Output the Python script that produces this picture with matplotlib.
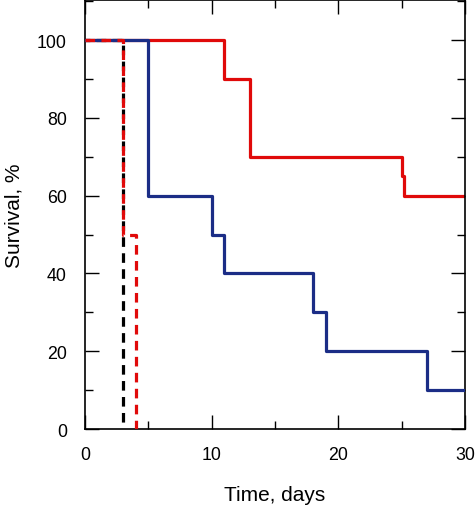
import matplotlib
matplotlib.use("Agg")
import matplotlib.pyplot as plt
from matplotlib.ticker import MultipleLocator

plt.rcParams['font.family'] = ['Liberation Sans', 'DejaVu Sans']

# Kaplan-Meier style step data (time in days, survival in %)
red_t = [0, 11, 13, 25, 25.15, 30]
red_s = [100, 90, 70, 65, 60, 60]

blue_t = [0, 5, 10, 11, 18, 19, 27, 30]
blue_s = [100, 60, 50, 40, 30, 20, 10, 10]

red_dash_t = [0, 3, 4, 4]
red_dash_s = [100, 50, 0, 0]

black_dash_t = [0, 3, 3]
black_dash_s = [100, 0, 0]

RED = "#e00a0a"
BLUE = "#1b2d86"

fig = plt.figure(figsize=(4.75, 5.06), dpi=100)
ax = fig.add_axes([0.179, 0.150, 0.800, 0.848])

ax.step(red_t, red_s, where="post", color=RED, lw=2.3, zorder=2)
ax.step(black_dash_t, black_dash_s, where="post", color="black", lw=2.3,
        linestyle=(1.5, (3.0, 2.0)), zorder=3)
ax.step(blue_t, blue_s, where="post", color=BLUE, lw=2.3, zorder=4)
ax.step(red_dash_t, red_dash_s, where="post", color=RED, lw=2.3,
        linestyle=(0, (3.0, 2.0)), zorder=5)

ax.set_xlim(0, 30)
ax.set_ylim(0, 110.3)
ax.xaxis.set_major_locator(MultipleLocator(10))
ax.xaxis.set_minor_locator(MultipleLocator(5))
ax.yaxis.set_minor_locator(MultipleLocator(10))
ax.set_yticks([0, 20, 40, 60, 80, 100])

ax.tick_params(which="both", direction="in", top=True, right=True, width=1.0, labelsize=12.8)
ax.tick_params(which="major", length=10)
ax.tick_params(which="minor", length=6)
ax.tick_params(axis="x", which="major", pad=12)
ax.tick_params(axis="y", which="major", pad=13)
for s in ax.spines.values():
    s.set_linewidth(1.2)

ax.set_xlabel("Time, days", fontsize=15, labelpad=16)
ax.set_ylabel("Survival, %", fontsize=15, labelpad=10)

fig.savefig("out.png", dpi=100)
